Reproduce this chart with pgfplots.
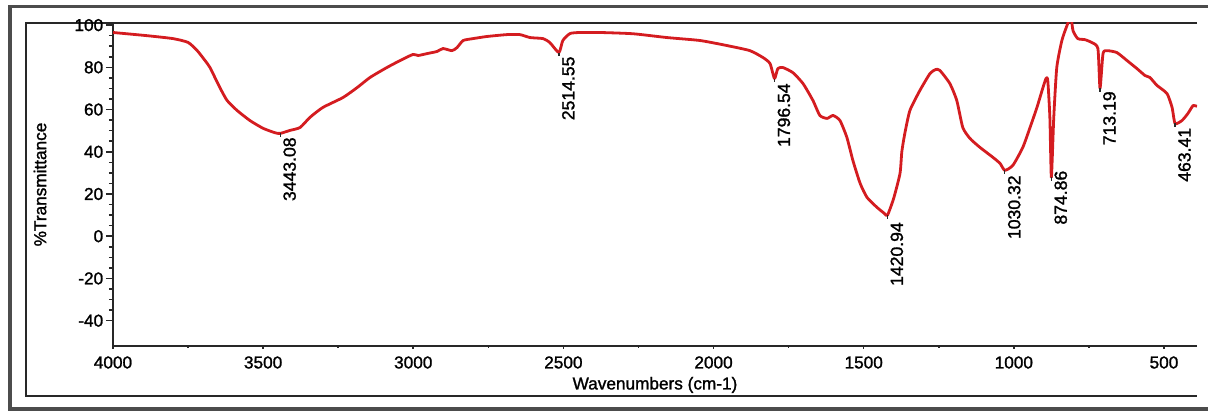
\documentclass[border=0pt]{standalone}
\usepackage{fontspec}
\setmainfont{Liberation Sans}[FakeBold=1.4]
\usepackage{pgfplots}
\pgfplotsset{compat=1.18}
\definecolor{spec}{RGB}{212,28,32}
\definecolor{frm}{RGB}{40,40,40}
\begin{document}
\begin{tikzpicture}
\path[use as bounding box] (-56.5pt,-32.5pt) rectangle (547.5pt,173pt);
\draw[line width=1.6pt, black!70] (560pt,169.75pt) -- (-51.5pt,169.75pt) -- (-51.5pt,-31.5pt) -- (560pt,-31.5pt);
\draw[line width=1pt, frm] (542pt,161.5pt) -- (-43.5pt,161.5pt) -- (-43.5pt,-25pt) -- (542pt,-25pt);
\begin{axis}[
  scale only axis, width=542pt, height=161.5pt,
  x dir=reverse, xmin=390, xmax=4000, ymin=-52, ymax=101,
  axis x line*=bottom, axis y line*=left,
  axis line style={line width=1pt, frm, -},
  every outer x axis line/.append style={-},
  every outer y axis line/.append style={-},
  xtick={500,1000,...,4000}, ytick={-40,-20,...,100},
  minor x tick num=1, minor y tick num=3,
  tick align=outside, major tick length=3.5pt, minor tick length=2pt,
  tick style={frm, line width=0.8pt},
  xtick style={/pgfplots/major tick length=1.5pt, /pgfplots/minor tick length=1pt},
  scaled x ticks=false,
  /pgf/number format/1000 sep={},
  /pgf/number format/assume math mode=true,
  every tick label/.append style={font=\fontsize{8.6}{10}\selectfont, text=black},
  yticklabel style={inner sep=1.2pt},
  xticklabel style={inner sep=1.5pt},
  xlabel={Wavenumbers (cm-1)},
  ylabel={\%Transmittance},
  label style={font=\fontsize{8.6}{10}\selectfont},
  xlabel style={at={(axis description cs:0.5,-0.1207)}, anchor=center},
  ylabel style={at={(axis description cs:-0.0673,0.5)}, anchor=center},
]
\addplot[spec, line width=1.4pt, line join=round, smooth, tension=0.35] coordinates {
(4000,96.5) (3887,95.0) (3800,93.6) (3750,91.8) (3720,88.0) (3695,83.5) (3677,79.9)
(3644,70.4) (3620,64.3) (3587,59.6) (3544,54.8) (3500,51.1) (3460,49.0)
(3443,48.7) (3411,50.1) (3377,51.5) (3344,56.3) (3301,61.0) (3234,65.7)
(3187,70.4) (3144,75.2) (3088,79.9) (3044,83.2) (3001,86.1) (2984,85.6)
(2954,86.5) (2921,87.5) (2901,88.9) (2871,87.9) (2854,89.4) (2834,92.7)
(2801,93.6) (2755,94.6) (2688,95.5) (2645,95.5) (2611,94.1) (2568,93.6)
(2545,91.7) (2515,87.0) (2502,92.7) (2478,96.0) (2445,96.5) (2378,96.5)
(2268,95.9) (2155,94.1) (2045,92.7) (1955,90.3) (1879,87.9) (1835,84.6)
(1812,81.8) (1797,74.7) (1786,79.4) (1769,79.9) (1736,77.5) (1702,72.3)
(1669,64.3) (1646,57.2) (1622,55.8) (1602,57.2) (1579,54.8) (1556,46.8)
(1536,35.9) (1512,25.1) (1489,18.4) (1456,13.7) (1432,10.9) (1421,9.9)
(1400,18.0) (1379,29.8) (1373,40.0) (1363,48.7) (1346,59.6) (1313,69.0)
(1279,77.1) (1260,79.0) (1246,78.5) (1213,72.3) (1190,64.3) (1170,51.5)
(1146,46.3) (1113,42.1) (1070,37.4) (1046,34.5) (1030,31.2) (1003,33.6)
(970,42.1) (946,51.5) (923,61.0) (906,69.0) (893,74.7) (887,73.8)
(880,56.3) (875,27.9) (867,56.3) (857,79.9) (840,92.7) (823,99.8)
(810,104) (803,97.4) (787,93.6) (763,93.1) (740,91.7) (720,88.9)
(713,70.0) (703,86.5) (690,87.9) (657,87.0) (623,83.2) (590,79.4)
(563,76.1) (547,75.2) (523,71.4) (490,67.6) (473,61.0) (463,53.4)
(440,54.8) (420,58.2) (403,61.9) (390,61.5)
};
\foreach \px/\py/\ty/\lab in {3443/48.7/47.0/3443.08, 2515/87.0/85.3/2514.55, 1797/74.7/72.6/1796.54, 1421/9.9/6.8/1420.94, 1030/31.2/29.0/1030.32, 875/27.9/31.2/874.86, 713/70.0/68.8/713.19, 463/53.4/51.5/463.41}{
  \edef\temp{\noexpand\draw[frm, line width=0.6pt] (axis cs:\px,\py) -- (axis cs:\px,\py-1.8);
  \noexpand\node[rotate=90, anchor=north east, inner sep=0pt, font=\noexpand\fontsize{8.8}{10}\noexpand\selectfont] at ([xshift=1.4pt]axis cs:\px,\ty) {\lab};}
  \temp
}
\end{axis}
\end{tikzpicture}
\end{document}
